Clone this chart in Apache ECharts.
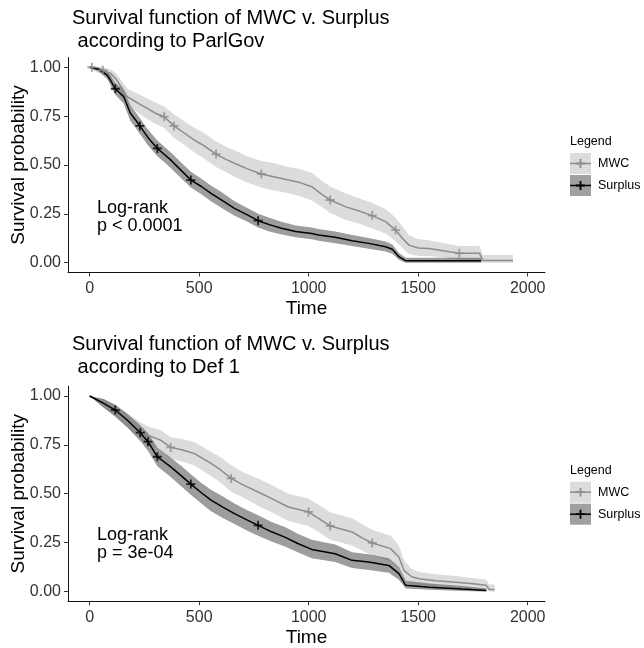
<!DOCTYPE html>
<html>
<head>
<meta charset="utf-8">
<script src="https://cdn.jsdelivr.net/npm/echarts@6/dist/echarts.min.js"></script>
<style>html,body{margin:0;padding:0;background:#fff}#c{width:644px;height:648px}</style>
</head>
<body>
<div id="c"></div>
<script>
// ---------- DATA ----------
const xTicks = [0, 500, 1000, 1500, 2000];
const yTicks = [0, 0.25, 0.5, 0.75, 1];
const groups = ['MWC', 'Surplus'];
const panelTitles = ['Survival function of MWC v. Surplus\n according to ParlGov',
                     'Survival function of MWC v. Surplus\n according to Def 1'];
const logRankTexts = ['Log-rank\np < 0.0001', 'Log-rank\np = 3e-04'];

// Panel 1 (ParlGov) - MWC
const pgMwcTime = [0,30,60,94,120,150,171,200,230,263,300,340,385,430,477,520,577,620,661,720,784,840,907,960,1014,1060,1098,1167,1230,1290,1351,1397,1428,1458,1500,1550,1620,1688,1780,1795,1933];
const pgMwcSurv = [1,0.99,0.985,0.97,0.94,0.89,0.85,0.83,0.81,0.79,0.765,0.747,0.70,0.665,0.628,0.60,0.556,0.53,0.509,0.48,0.454,0.44,0.423,0.41,0.389,0.35,0.321,0.287,0.265,0.241,0.21,0.167,0.125,0.09,0.075,0.073,0.06,0.048,0.048,0.012,0.012];
const pgMwcLow  = [1,0.975,0.965,0.945,0.91,0.85,0.81,0.785,0.76,0.735,0.71,0.69,0.64,0.605,0.565,0.535,0.49,0.465,0.44,0.41,0.385,0.37,0.355,0.34,0.32,0.285,0.255,0.22,0.2,0.175,0.15,0.11,0.075,0.045,0.035,0.035,0.025,0.015,0.015,0,0];
const pgMwcHigh = [1,1,1,0.99,0.97,0.925,0.89,0.875,0.86,0.84,0.82,0.80,0.76,0.725,0.69,0.665,0.62,0.595,0.575,0.545,0.52,0.51,0.49,0.48,0.46,0.42,0.39,0.355,0.33,0.305,0.275,0.23,0.185,0.14,0.12,0.115,0.10,0.085,0.085,0.04,0.04];
const pgMwcMarks = [[10,1],[60,0.985],[340,0.747],[385,0.70],[577,0.556],[784,0.454],[1098,0.321],[1290,0.241],[1397,0.167],[1688,0.048]];

// Panel 1 (ParlGov) - Surplus
const pgSurTime = [0,40,80,94,117,155,186,210,229,263,309,340,370,420,462,510,554,610,661,720,769,820,876,940,1014,1045,1121,1198,1274,1351,1382,1412,1443,1788];
const pgSurSurv = [1,0.99,0.96,0.935,0.89,0.85,0.765,0.73,0.70,0.645,0.585,0.555,0.526,0.47,0.423,0.39,0.355,0.315,0.278,0.245,0.215,0.195,0.176,0.16,0.15,0.142,0.13,0.113,0.099,0.082,0.069,0.031,0.01,0.01];
const pgSurLow  = [1,0.98,0.94,0.91,0.86,0.815,0.725,0.69,0.66,0.605,0.545,0.515,0.485,0.43,0.385,0.35,0.315,0.275,0.24,0.21,0.18,0.16,0.145,0.13,0.12,0.113,0.10,0.085,0.072,0.057,0.046,0.015,0,0];
const pgSurHigh = [1,1,0.98,0.96,0.92,0.885,0.805,0.77,0.74,0.685,0.625,0.595,0.565,0.51,0.465,0.43,0.395,0.355,0.315,0.28,0.25,0.23,0.21,0.19,0.18,0.172,0.16,0.142,0.127,0.108,0.093,0.05,0.025,0.025];
const pgSurMarks = [[117,0.89],[229,0.70],[309,0.585],[462,0.423],[769,0.215]];

// Panel 2 (Def 1) - MWC
const d1MwcTime = [0,64,120,171,220,263,324,370,420,477,554,600,646,700,784,840,907,999,1050,1098,1198,1250,1290,1374,1412,1435,1470,1504,1580,1657,1740,1811,1825,1849];
const d1MwcSurv = [1,0.962,0.92,0.877,0.835,0.80,0.774,0.737,0.725,0.706,0.655,0.62,0.578,0.545,0.501,0.47,0.432,0.407,0.37,0.335,0.304,0.27,0.248,0.219,0.176,0.108,0.075,0.065,0.055,0.048,0.04,0.031,0.01,0.01];
const d1MwcLow  = [1,0.94,0.89,0.84,0.79,0.75,0.72,0.68,0.665,0.645,0.59,0.555,0.51,0.48,0.43,0.40,0.36,0.335,0.30,0.265,0.235,0.205,0.185,0.155,0.12,0.06,0.035,0.03,0.022,0.018,0.012,0.008,0,0];
const d1MwcHigh = [1,0.985,0.95,0.91,0.875,0.845,0.825,0.79,0.78,0.765,0.715,0.685,0.645,0.61,0.57,0.54,0.50,0.475,0.44,0.405,0.375,0.34,0.315,0.285,0.235,0.16,0.115,0.10,0.088,0.08,0.07,0.06,0.035,0.035];
const d1MwcMarks = [[370,0.737],[646,0.578],[999,0.407],[1098,0.335],[1290,0.248]];

// Panel 2 (Def 1) - Surplus
const d1SurTime = [0,64,117,171,231,266,309,370,420,462,510,554,610,661,720,769,830,891,950,1014,1121,1198,1274,1366,1412,1443,1550,1700,1811];
const d1SurSurv = [1,0.962,0.928,0.877,0.812,0.766,0.689,0.637,0.59,0.549,0.505,0.467,0.43,0.398,0.365,0.338,0.305,0.278,0.245,0.215,0.193,0.159,0.15,0.133,0.091,0.031,0.022,0.012,0.005];
const d1SurLow  = [1,0.94,0.895,0.84,0.77,0.72,0.64,0.585,0.535,0.495,0.45,0.41,0.375,0.345,0.31,0.285,0.255,0.23,0.2,0.17,0.15,0.12,0.11,0.095,0.06,0.015,0.008,0.002,0];
const d1SurHigh = [1,0.985,0.955,0.91,0.85,0.81,0.735,0.685,0.64,0.60,0.555,0.52,0.485,0.45,0.415,0.39,0.355,0.33,0.295,0.265,0.24,0.20,0.19,0.17,0.125,0.055,0.04,0.028,0.015];
const d1SurMarks = [[117,0.928],[231,0.812],[266,0.766],[309,0.689],[462,0.549],[769,0.338]];

// ---------- CHART ----------
const FONT = '"Liberation Sans", Arial, sans-serif';
const plusPath = 'path://M4,0h2v4h4v2h-4v4h-2v-4h-4v-2h4z';
const panels = [
  { top: 57.5, titleTop: 1.5, mwc: [pgMwcTime, pgMwcSurv, pgMwcLow, pgMwcHigh, pgMwcMarks], sur: [pgSurTime, pgSurSurv, pgSurLow, pgSurHigh, pgSurMarks] },
  { top: 386.2, titleTop: 327.5, mwc: [d1MwcTime, d1MwcSurv, d1MwcLow, d1MwcHigh, d1MwcMarks], sur: [d1SurTime, d1SurSurv, d1SurLow, d1SurHigh, d1SurMarks] }
];
const style = {
  MWC: { line: '#8c8c8c', band: '#dcdcdc', key: '#dcdcdc' },
  Surplus: { line: '#000000', band: 'rgba(60,60,60,0.5)', key: '#a0a0a0' }
};

function bandRenderer(t, low, high, color) {
  return function (params, api) {
    if (params.dataIndex !== 0) return { type: 'group', children: [] };
    const pts = [];
    const n = t.length;
    for (let i = 0; i < n; i++) pts.push(api.coord([t[i], high[i]]));
    for (let i = n - 1; i >= 0; i--) pts.push(api.coord([t[i], low[i]]));
    return { type: 'polygon', shape: { points: pts }, style: { fill: color, stroke: null } };
  };
}

function plusPoints(cx, cy, r, w) {
  const h = w / 2;
  return [[cx - h, cy - r], [cx + h, cy - r], [cx + h, cy - h], [cx + r, cy - h], [cx + r, cy + h], [cx + h, cy + h],
          [cx + h, cy + r], [cx - h, cy + r], [cx - h, cy + h], [cx - r, cy + h], [cx - r, cy - h], [cx - h, cy - h]];
}

const option = {
  animation: false,
  backgroundColor: '#fff',
  title: [], grid: [], xAxis: [], yAxis: [], series: [], graphic: []
};

panels.forEach(function (p, k) {
  const dy = p.top - 57.5;
  option.title.push({
    left: 67, top: p.titleTop, text: panelTitles[k],
    textStyle: { fontFamily: FONT, fontSize: 20, fontWeight: 'normal', color: '#000', lineHeight: 23.4 }
  });
  option.grid.push({ left: 68, top: p.top, width: 477, height: 215, containLabel: false, outerBoundsMode: 'none' });
  option.xAxis.push({
    gridIndex: k, type: 'value', min: -99, max: 2079,
    name: 'Time', nameLocation: 'middle', nameGap: 27, nameMoveOverlap: false,
    nameTextStyle: { fontFamily: FONT, fontSize: 19, color: '#000' },
    axisLine: { show: true, onZero: false, lineStyle: { color: '#111', width: 1 } },
    axisTick: { show: true, length: 4, customValues: xTicks, lineStyle: { color: '#333' } },
    axisLabel: { customValues: xTicks, fontFamily: FONT, fontSize: 16, color: '#333', margin: 8,
      formatter: function (v) { return String(v); } },
    splitLine: { show: false }
  });
  option.yAxis.push({
    gridIndex: k, type: 'value', min: -0.05, max: 1.05,
    name: 'Survival probability', nameLocation: 'middle', nameGap: 40, nameRotate: 90, nameMoveOverlap: false,
    nameTextStyle: { fontFamily: FONT, fontSize: 19, color: '#000' },
    axisLine: { show: true, onZero: false, lineStyle: { color: '#111', width: 1 } },
    axisTick: { show: true, length: 4, customValues: yTicks, lineStyle: { color: '#333' } },
    axisLabel: { customValues: yTicks, fontFamily: FONT, fontSize: 16, color: '#333', margin: 7,
      formatter: function (v) { return v.toFixed(2); } },
    splitLine: { show: false }
  });
  [['MWC', p.mwc], ['Surplus', p.sur]].forEach(function (g) {
    const name = g[0], d = g[1];
    option.series.push({
      type: 'custom', coordinateSystem: 'cartesian2d', xAxisIndex: k, yAxisIndex: k,
      data: d[0].map(function (t, i) { return [t, d[2][i], d[3][i]]; }),
      encode: { x: 0, y: [1, 2] }, silent: true, z: 1,
      renderItem: bandRenderer(d[0], d[2], d[3], style[name].band)
    });
  });
  [['MWC', p.mwc], ['Surplus', p.sur]].forEach(function (g) {
    const name = g[0], d = g[1];
    option.series.push({
      type: 'line', name: name, xAxisIndex: k, yAxisIndex: k,
      data: d[0].map(function (t, i) { return [t, d[1][i]]; }),
      showSymbol: false, silent: true, z: 3,
      lineStyle: { color: style[name].line, width: 1.5 }
    });
    option.series.push({
      type: 'scatter', xAxisIndex: k, yAxisIndex: k, data: d[4],
      symbol: plusPath, symbolSize: 9, silent: true, z: 4,
      itemStyle: { color: style[name].line }
    });
  });
  // Log-rank annotation
  option.graphic.push({
    type: 'text', x: 97, y: 199.5 + (k ? 326.5 : 0),
    style: { text: logRankTexts[k], font: '18px ' + FONT, fill: '#000', lineHeight: 18, verticalAlign: 'top' }
  });
  // Legend
  const ly = 142 + dy;
  option.graphic.push({ type: 'text', x: 570, y: ly, style: { text: 'Legend', font: '12.5px ' + FONT, fill: '#000', verticalAlign: 'middle' } });
  groups.forEach(function (name, j) {
    const by = ly + 11 + j * 22;
    option.graphic.push({ type: 'rect', shape: { x: 570, y: by, width: 21, height: 21 }, style: { fill: style[name].key } });
    option.graphic.push({ type: 'line', shape: { x1: 570, y1: by + 10.5, x2: 591, y2: by + 10.5 }, style: { stroke: style[name].line, lineWidth: 1.5 } });
    option.graphic.push({ type: 'polygon', shape: { points: plusPoints(580.5, by + 10.5, 4.5, 1.8) }, style: { fill: style[name].line } });
    option.graphic.push({ type: 'text', x: 598, y: by + 10.5, style: { text: name, font: '12.5px ' + FONT, fill: '#000', verticalAlign: 'middle' } });
  });
});

const chart = echarts.init(document.getElementById('c'), null, { renderer: 'canvas' });
chart.setOption(option);
</script>
</body>
</html>
